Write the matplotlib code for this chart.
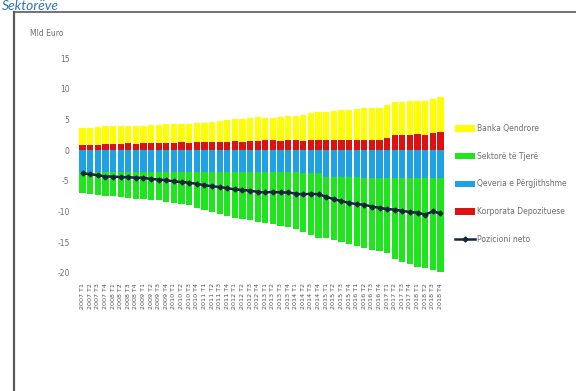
import matplotlib
matplotlib.use("Agg")
import matplotlib.pyplot as plt
from matplotlib.lines import Line2D
from matplotlib.patches import Patch
import numpy as np

# Quarterly periods
periods = [
    "2007 T1", "2007 T2", "2007 T3", "2007 T4",
    "2008 T1", "2008 T2", "2008 T3", "2008 T4",
    "2009 T1", "2009 T2", "2009 T3", "2009 T4",
    "2010 T1", "2010 T2", "2010 T3", "2010 T4",
    "2011 T1", "2011 T2", "2011 T3", "2011 T4",
    "2012 T1", "2012 T2", "2012 T3", "2012 T4",
    "2013 T1", "2013 T2", "2013 T3", "2013 T4",
    "2014 T1", "2014 T2", "2014 T3", "2014 T4",
    "2015 T1", "2015 T2", "2015 T3", "2015 T4",
    "2016 T1", "2016 T2", "2016 T3", "2016 T4",
    "2017 T1", "2017 T2", "2017 T3", "2017 T4",
    "2018 T1", "2018 T2", "2018 T3", "2018 T4",
]

# Net positions by sector, billion euro
korporata_depozituese = [
    0.9, 0.9, 0.9, 1.0, 1.0, 1.0, 1.1, 1.0, 1.1, 1.1, 1.1, 1.2,
    1.2, 1.3, 1.2, 1.3, 1.4, 1.3, 1.4, 1.4, 1.5, 1.4, 1.5, 1.5,
    1.6, 1.6, 1.5, 1.6, 1.6, 1.5, 1.6, 1.6, 1.6, 1.7, 1.6, 1.6,
    1.6, 1.7, 1.6, 1.7, 2.0, 2.5, 2.4, 2.5, 2.6, 2.5, 2.8, 3.0,
]
banka_qendrore = [
    2.7, 2.7, 2.8, 2.9, 2.9, 2.9, 2.9, 3.0, 2.9, 3.0, 3.0, 3.0,
    3.0, 3.0, 3.1, 3.1, 3.1, 3.3, 3.3, 3.5, 3.5, 3.7, 3.8, 3.9,
    3.7, 3.7, 3.9, 3.9, 4.0, 4.3, 4.5, 4.6, 4.6, 4.7, 4.9, 5.0,
    5.1, 5.1, 5.3, 5.2, 5.4, 5.4, 5.5, 5.5, 5.4, 5.5, 5.6, 5.7,
]
qeveria_pergjithshme = [
    -3.5, -3.5, -3.5, -3.5, -3.5, -3.6, -3.6, -3.6, -3.6, -3.6, -3.6, -3.6,
    -3.6, -3.6, -3.6, -3.6, -3.6, -3.6, -3.6, -3.6, -3.6, -3.6, -3.6, -3.6,
    -3.6, -3.6, -3.6, -3.6, -3.6, -3.7, -3.7, -3.8, -4.3, -4.4, -4.4, -4.4,
    -4.4, -4.5, -4.5, -4.5, -4.5, -4.5, -4.6, -4.6, -4.6, -4.6, -4.6, -4.6,
]
sektore_te_tjere = [
    -3.5, -3.6, -3.8, -3.9, -4.0, -4.1, -4.2, -4.3, -4.4, -4.5, -4.6, -4.8,
    -5.0, -5.2, -5.4, -5.8, -6.2, -6.5, -6.8, -7.1, -7.4, -7.6, -7.8, -8.1,
    -8.3, -8.5, -8.7, -8.9, -9.3, -9.7, -10.1, -10.5, -10.0, -10.3, -10.6, -10.9,
    -11.2, -11.5, -11.7, -12.0, -12.3, -13.2, -13.6, -14.0, -14.4, -14.6, -15.0, -15.3,
]
pozicioni_neto = [
    -3.8, -3.9, -4.1, -4.3, -4.3, -4.4, -4.4, -4.5, -4.5, -4.7, -4.8, -4.9,
    -5.1, -5.2, -5.3, -5.5, -5.7, -5.9, -6.0, -6.2, -6.4, -6.5, -6.6, -6.8,
    -6.9, -6.8, -6.9, -6.9, -7.1, -7.2, -7.1, -7.2, -7.6, -8.0, -8.3, -8.6,
    -8.8, -8.9, -9.2, -9.4, -9.6, -9.7, -9.9, -10.1, -10.2, -10.5, -10.0, -10.3,
]
y_ticks = [15, 10, 5, 0, -5, -10, -15, -20]

c_yellow = "#FFFF00"
c_green = "#1FE51F"
c_blue = "#1FA2E3"
c_red = "#DD1111"
c_line = "#14283C"
c_text = "#6E6E6E"

W, H = 576, 391
fig = plt.figure(figsize=(W / 100, H / 100), dpi=100)
fig.patch.set_facecolor("white")

# Frame of the chart box
fig.add_artist(Line2D([14 / W, 14 / W], [0, 1 - 12 / H], color="#5a5a5a", lw=1.6))
fig.add_artist(Line2D([14 / W, 1], [1 - 12 / H, 1 - 12 / H], color="#5a5a5a", lw=1.2))

# Section heading above the chart box
fig.text(2 / W, 1 - 10 / H, "Sektorëve", color="#2E74B5", fontsize=10,
         style="italic", family=["Lato", "DejaVu Sans"], va="baseline", ha="left")

fig.text(30 / W, 1 - 33 / H, "Mld Euro", color=c_text, fontsize=5.5, va="center", ha="left")

ax = fig.add_axes([78 / W, 1 - 279 / H, (445 - 78) / W, (279 - 55) / H])
x = np.arange(len(periods))
kd = np.array(korporata_depozituese)
bq = np.array(banka_qendrore)
qp = np.array(qeveria_pergjithshme)
st = np.array(sektore_te_tjere)

bw = 0.82
ax.bar(x, kd, bw, color=c_red, edgecolor="none")
ax.bar(x, bq, bw, bottom=kd, color=c_yellow, edgecolor="none")
ax.bar(x, qp, bw, color=c_blue, edgecolor="none")
ax.bar(x, st, bw, bottom=qp, color=c_green, edgecolor="none")
ax.plot(x, pozicioni_neto, color=c_line, lw=1.8, marker="D", ms=2.5, zorder=5)

ax.set_xlim(-0.6, len(periods) - 0.4)
ax.set_ylim(-21, 15.5)
ax.set_yticks(y_ticks)
ax.set_yticklabels([str(v) for v in y_ticks], fontsize=5.5, color=c_text)
ax.set_xticks(x)
ax.set_xticklabels(periods, rotation=90, fontsize=4.6, color="#555555")
ax.tick_params(axis="both", length=0)
ax.tick_params(axis="y", pad=6)
ax.tick_params(axis="x", pad=3)
for s in ax.spines.values():
    s.set_visible(False)

handles = [
    Patch(facecolor=c_yellow, label="Banka Qendrore"),
    Patch(facecolor=c_green, label="Sektorë të Tjerë"),
    Patch(facecolor=c_blue, label="Qeveria e Përgjithshme"),
    Patch(facecolor=c_red, label="Korporata Depozituese"),
    Line2D([0], [0], color=c_line, lw=1.8, marker="D", ms=2.5, label="Pozicioni neto"),
]
fig.legend(handles=handles, loc="upper left", bbox_to_anchor=(452 / W, 1 - 121 / H),
           frameon=False, fontsize=5.5, labelcolor=c_text, handlelength=2.6,
           handleheight=0.9, handletextpad=0.3, labelspacing=2.45, borderaxespad=0)

fig.savefig("out.png", dpi=100)
